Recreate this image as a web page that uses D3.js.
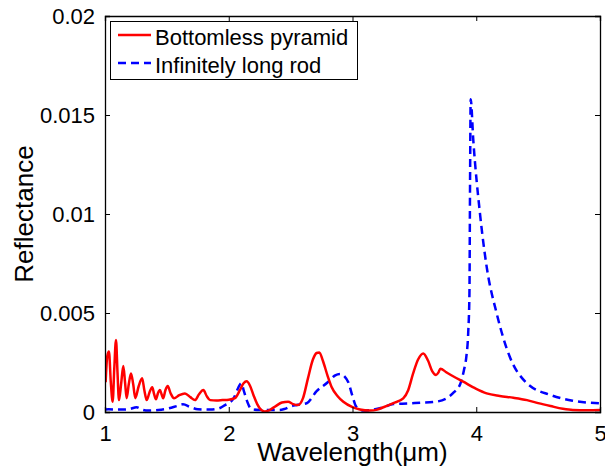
<!DOCTYPE html>
<html>
<head>
<meta charset="utf-8">
<script src="https://cdn.jsdelivr.net/npm/d3@7"></script>
<style>
  html, body { margin: 0; padding: 0; background: #fff; }
  svg { display: block; }
  text { font-family: "Liberation Sans", Arial, sans-serif; fill: #000; }
</style>
</head>
<body>
<svg id="chart" width="605" height="472"></svg>
<script>
// Wavelength samples (µm) and reflectance for the bottomless pyramid
const pyramidWavelength = [1.005,1.018,1.032,1.047,1.062,1.075,1.089,1.101,1.113,1.130,1.148,1.162,1.175,1.192,1.210,1.228,1.245,1.272,1.300,1.318,1.337,1.360,1.382,1.397,1.412,1.428,1.444,1.457,1.470,1.488,1.507,1.530,1.558,1.600,1.646,1.690,1.727,1.760,1.795,1.822,1.850,1.900,1.950,2.000,2.050,2.090,2.120,2.145,2.170,2.200,2.230,2.260,2.290,2.330,2.380,2.430,2.480,2.520,2.560,2.600,2.640,2.680,2.710,2.732,2.760,2.800,2.830,2.880,2.926,3.000,3.060,3.140,3.200,3.250,3.330,3.410,3.450,3.490,3.530,3.572,3.610,3.645,3.675,3.695,3.710,3.760,3.820,3.895,3.990,4.084,4.190,4.300,4.410,4.500,4.600,4.700,4.780,4.900,5.000];
const pyramidReflectance = [0.00150,0.00280,0.00305,0.00150,0.00052,0.00220,0.00364,0.00200,0.00060,0.00140,0.00232,0.00150,0.00070,0.00140,0.00195,0.00140,0.00070,0.00130,0.00170,0.00110,0.00060,0.00100,0.00125,0.00090,0.00064,0.00095,0.00111,0.00090,0.00069,0.00110,0.00131,0.00095,0.00069,0.00085,0.00094,0.00075,0.00060,0.00090,0.00111,0.00080,0.00060,0.00058,0.00060,0.00062,0.00070,0.00110,0.00145,0.00155,0.00135,0.00085,0.00040,0.00012,0.00003,0.00010,0.00030,0.00048,0.00052,0.00040,0.00035,0.00070,0.00170,0.00265,0.00298,0.00301,0.00260,0.00180,0.00128,0.00080,0.00052,0.00025,0.00013,0.00007,0.00012,0.00024,0.00045,0.00069,0.00110,0.00195,0.00265,0.00296,0.00260,0.00205,0.00187,0.00200,0.00219,0.00200,0.00178,0.00153,0.00120,0.00094,0.00081,0.00072,0.00060,0.00045,0.00030,0.00016,0.00010,0.00009,0.00010];

// Wavelength samples (µm) and reflectance for the infinitely long rod
const rodWavelength = [1.000,1.030,1.100,1.190,1.256,1.300,1.350,1.430,1.510,1.580,1.630,1.690,1.750,1.850,1.920,1.970,2.000,2.040,2.075,2.100,2.125,2.145,2.185,2.250,2.330,2.410,2.450,2.500,2.550,2.630,2.710,2.800,2.860,2.900,2.935,2.966,3.000,3.030,3.090,3.170,3.250,3.330,3.450,3.550,3.650,3.760,3.820,3.870,3.900,3.920,3.935,3.945,3.950,3.955,3.976,4.030,4.084,4.165,4.270,4.410,4.600,4.780,5.000];
const rodReflectance = [0.00012,0.00014,0.00012,0.00014,0.00024,0.00012,0.00007,0.00010,0.00018,0.00030,0.00039,0.00025,0.00014,0.00012,0.00018,0.00035,0.00044,0.00070,0.00120,0.00145,0.00100,0.00060,0.00014,0.00010,0.00010,0.00010,0.00015,0.00028,0.00035,0.00044,0.00105,0.00150,0.00185,0.00192,0.00180,0.00150,0.00080,0.00027,0.00007,0.00012,0.00024,0.00040,0.00043,0.00047,0.00050,0.00069,0.00100,0.00140,0.00210,0.00280,0.00400,0.00600,0.01170,0.01580,0.01374,0.01003,0.00734,0.00498,0.00280,0.00145,0.00086,0.00057,0.00044];

const xTicks = [1, 2, 3, 4, 5];
const yTicks = [0, 0.005, 0.01, 0.015, 0.02];
const yTickLabels = ["0", "0.005", "0.01", "0.015", "0.02"];
const seriesNames = ["Bottomless pyramid", "Infinitely long rod"];

const margin = { left: 105, top: 16, right: 5, bottom: 60 };
const svg = d3.select("#chart");
const W = 605, H = 472;
const plotW = W - margin.left - margin.right;
const plotH = H - margin.top - margin.bottom;

const x = d3.scaleLinear().domain([1, 5]).range([margin.left, margin.left + plotW]);
const y = d3.scaleLinear().domain([0, 0.02]).range([margin.top + plotH, margin.top]);

svg.append("defs").append("clipPath").attr("id", "plotClip")
  .append("rect").attr("x", margin.left).attr("y", margin.top)
  .attr("width", plotW).attr("height", plotH);

const line = d3.line()
  .x(d => x(d[0])).y(d => y(d[1]))
  .curve(d3.curveMonotoneX);

const pyramid = pyramidWavelength.map((w, i) => [w, pyramidReflectance[i]]);
const rod = rodWavelength.map((w, i) => [w, rodReflectance[i]]);

const plot = svg.append("g").attr("clip-path", "url(#plotClip)");
plot.append("path").datum(rod).attr("d", line)
  .attr("fill", "none").attr("stroke", "#0000ff").attr("stroke-width", 2.5)
  .attr("stroke-dasharray", "8,5");
plot.append("path").datum(pyramid).attr("d", line)
  .attr("fill", "none").attr("stroke", "#ff0000").attr("stroke-width", 2.5);

// Axes with inward ticks on all four sides
const tickLen = 5;
const axisColor = "#000";
const fontSize = 22;

const axisB = svg.append("g").attr("transform", `translate(0,${margin.top + plotH})`)
  .call(d3.axisBottom(x).tickValues(xTicks).tickSize(-tickLen).tickPadding(tickLen + 8)
    .tickFormat(d3.format("d")));
const axisT = svg.append("g").attr("transform", `translate(0,${margin.top})`)
  .call(d3.axisTop(x).tickValues(xTicks).tickSize(-tickLen).tickFormat(""));
const axisL = svg.append("g").attr("transform", `translate(${margin.left},0)`)
  .call(d3.axisLeft(y).tickValues(yTicks).tickSize(-tickLen).tickPadding(tickLen + 5)
    .tickFormat((d, i) => yTickLabels[i]));
const axisR = svg.append("g").attr("transform", `translate(${margin.left + plotW},0)`)
  .call(d3.axisRight(y).tickValues(yTicks).tickSize(-tickLen).tickFormat(""));

[axisB, axisT, axisL, axisR].forEach(g => {
  g.select(".domain").attr("stroke", axisColor).attr("stroke-width", 1.3);
  g.selectAll(".tick line").attr("stroke", axisColor).attr("stroke-width", 1);
  g.selectAll(".tick text").attr("font-size", fontSize)
    .attr("font-family", "Liberation Sans, Arial, sans-serif").attr("fill", "#000");
});
// no tick marks on the corners of the box
[axisB, axisT].forEach(g => g.selectAll(".tick line").filter(d => d === 1 || d === 5).remove());
[axisL, axisR].forEach(g => g.selectAll(".tick line").filter(d => d === 0 || d === 0.02).remove());

// Axis titles
svg.append("text")
  .attr("x", margin.left + plotW / 2).attr("y", 461)
  .attr("text-anchor", "middle").attr("font-size", 26)
  .text("Wavelength(\u03bcm)");
svg.append("text")
  .attr("transform", `translate(33,${margin.top + plotH / 2}) rotate(-90)`)
  .attr("text-anchor", "middle").attr("font-size", 26)
  .text("Reflectance");

// Legend
const legend = svg.append("g");
legend.append("rect")
  .attr("x", 110.5).attr("y", 21.5).attr("width", 247).attr("height", 58)
  .attr("fill", "#fff").attr("stroke", "#000").attr("stroke-width", 1);
const legendItems = [
  { name: seriesNames[0], color: "#ff0000", dash: null, yLine: 35, yText: 45 },
  { name: seriesNames[1], color: "#0000ff", dash: "8,5", yLine: 63, yText: 73 }
];
legendItems.forEach(it => {
  legend.append("line")
    .attr("x1", 118).attr("x2", 151).attr("y1", it.yLine).attr("y2", it.yLine)
    .attr("stroke", it.color).attr("stroke-width", 2.5)
    .attr("stroke-dasharray", it.dash);
  legend.append("text")
    .attr("x", 155).attr("y", it.yText).attr("font-size", fontSize)
    .text(it.name);
});
</script>
</body>
</html>
